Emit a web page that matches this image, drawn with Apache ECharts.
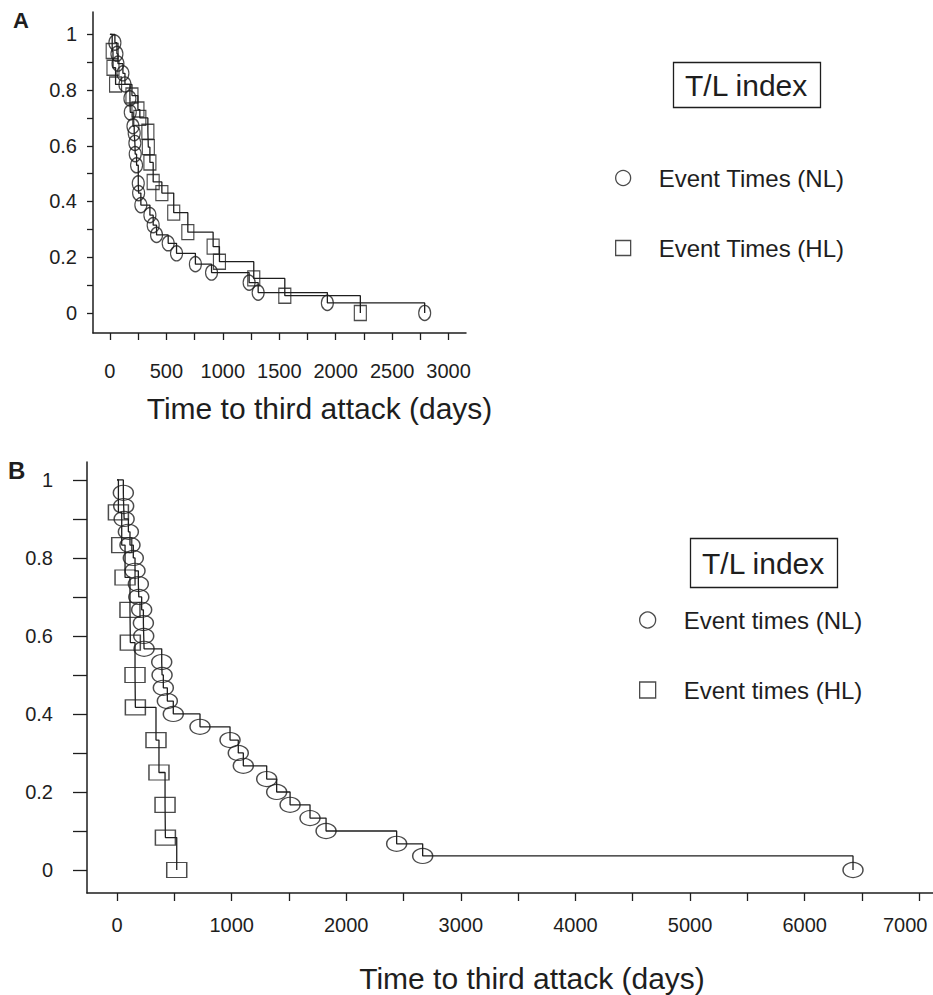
<!DOCTYPE html>
<html>
<head>
<meta charset="utf-8">
<title>Time to third attack</title>
<script src="https://cdn.jsdelivr.net/npm/echarts@6/dist/echarts.min.js"></script>
<style>
  html, body { margin: 0; padding: 0; background: #fff; }
  #chart { width: 933px; height: 995px; }
</style>
</head>
<body>
<div id="chart"></div>
<script>
// Panel A: event times (days) and survival at each event
const nlTimesA = [44, 62, 71, 115, 133, 177, 180, 204, 215, 221, 224, 236, 251, 254, 274, 354, 383, 413, 516, 590, 757, 900, 1233, 1313, 1926, 2788];
const nlSurvA = [0.97, 0.93, 0.895, 0.86, 0.82, 0.77, 0.72, 0.67, 0.645, 0.61, 0.57, 0.53, 0.465, 0.43, 0.387, 0.351, 0.315, 0.28, 0.25, 0.214, 0.175, 0.145, 0.109, 0.073, 0.036, 0];
const hlTimesA = [20, 27, 50, 195, 248, 265, 336, 340, 354, 383, 460, 565, 690, 914, 970, 1274, 1549, 2218];
const hlSurvA = [0.94, 0.88, 0.82, 0.78, 0.73, 0.70, 0.65, 0.595, 0.54, 0.47, 0.43, 0.36, 0.29, 0.238, 0.184, 0.124, 0.062, 0];

// Panel B
const nlTimesB = [55, 58, 62, 99, 113, 142, 157, 186, 190, 215, 230, 233, 236, 390, 393, 404, 439, 491, 724, 986, 1058, 1102, 1306, 1393, 1510, 1684, 1824, 2440, 2667, 6422];
const nlSurvB = [0.967, 0.933, 0.9, 0.867, 0.833, 0.8, 0.767, 0.733, 0.7, 0.667, 0.633, 0.6, 0.567, 0.533, 0.5, 0.467, 0.433, 0.4, 0.367, 0.333, 0.3, 0.267, 0.233, 0.2, 0.167, 0.133, 0.1, 0.067, 0.036, 0];
const hlTimesB = [12, 41, 70, 113, 116, 157, 160, 340, 366, 419, 422, 521];
const hlSurvB = [0.917, 0.833, 0.75, 0.667, 0.583, 0.5, 0.417, 0.333, 0.25, 0.167, 0.083, 0];

// ticks and labels
const yTicks = [0, 0.1, 0.2, 0.3, 0.4, 0.5, 0.6, 0.7, 0.8, 0.9, 1];
const yLabels = [0, 0.2, 0.4, 0.6, 0.8, 1];
const xTicksA = [0, 250, 500, 750, 1000, 1250, 1500, 1750, 2000, 2250, 2500, 2750, 3000];
const xLabelsA = [0, 500, 1000, 1500, 2000, 2500, 3000];
const xTicksB = [0, 500, 1000, 1500, 2000, 2500, 3000, 3500, 4000, 4500, 5000, 5500, 6000, 6500, 7000];
const xLabelsB = [0, 1000, 2000, 3000, 4000, 5000, 6000, 7000];

const INK = '#1e1e1e';
const FONT = '"Liberation Sans", Arial, Helvetica, sans-serif';
const AXIS_TITLE = 'Time to third attack (days)';

function steps(times, surv) {
  return [[0, 1]].concat(times.map((t, i) => [t, surv[i]]));
}
function points(times, surv) {
  return times.map((t, i) => [t, surv[i]]);
}

function xAxis(idx, min, max, ticks, labels, tickLen, labelMargin, nameGap, shift) {
  return {
    gridIndex: idx,
    type: 'value',
    min: min,
    max: max,
    splitLine: { show: false },
    axisLine: { show: true, onZero: false, lineStyle: { color: INK, width: 1.5 } },
    axisTick: { show: true, customValues: ticks, length: tickLen, lineStyle: { color: INK, width: 1.3 } },
    axisLabel: {
      customValues: labels,
      margin: labelMargin,
      fontSize: 20,
      color: INK,
      fontFamily: FONT,
      // the last label of panel B sits at the page edge
      formatter: (v) => (v === 7000 ? '{edge|' + v + '}' : String(v)),
      rich: { edge: { fontSize: 20, fontFamily: FONT, color: INK, padding: [0, 28, 0, 0] } },
    },
    name: AXIS_TITLE,
    nameLocation: 'middle',
    nameGap: nameGap,
    nameTextStyle: { fontSize: 30, color: INK, fontFamily: FONT, padding: [0, 0, 0, shift] },
  };
}

function yAxis(idx, min, max, tickLen, labelMargin) {
  return {
    gridIndex: idx,
    type: 'value',
    min: min,
    max: max,
    splitLine: { show: false },
    axisLine: { show: true, onZero: false, lineStyle: { color: INK, width: 1.5 } },
    axisTick: { show: true, customValues: yTicks, length: tickLen, lineStyle: { color: INK, width: 1.3 } },
    axisLabel: {
      customValues: yLabels,
      margin: labelMargin,
      fontSize: 20,
      color: INK,
      fontFamily: FONT,
      formatter: (v) => String(v),
    },
  };
}

function stepSeries(idx, data) {
  return {
    type: 'line',
    xAxisIndex: idx,
    yAxisIndex: idx,
    step: 'end',
    data: data,
    showSymbol: false,
    silent: true,
    lineStyle: { color: INK, width: 1.3 },
    itemStyle: { color: INK },
  };
}

function markSeries(idx, name, symbol, size, data) {
  return {
    type: 'scatter',
    name: name,
    xAxisIndex: idx,
    yAxisIndex: idx,
    symbol: symbol,
    symbolSize: size,
    data: data,
    itemStyle: { color: 'rgba(0,0,0,0)', borderColor: INK, borderWidth: 1.3 },
  };
}

function legend(left, top, names, size) {
  return {
    orient: 'vertical',
    left: left,
    top: top,
    padding: 0,
    itemGap: 46,
    itemWidth: size,
    itemHeight: size,
    selectedMode: false,
    data: [
      { name: names[0], icon: 'circle' },
      { name: names[1], icon: 'rect' },
    ],
    itemStyle: { color: 'rgba(0,0,0,0)', borderColor: INK, borderWidth: 1.3 },
    textStyle: { fontSize: 24, lineHeight: 24, color: INK, fontFamily: FONT, padding: [0, 0, 0, 23] },
  };
}

function boxTitle(text, left, top, padV) {
  return {
    text: text,
    left: left,
    top: top,
    padding: [padV, 12],
    borderWidth: 1.3,
    borderColor: INK,
    textStyle: { fontSize: 30, lineHeight: 30, fontWeight: 'normal', color: INK, fontFamily: FONT },
  };
}

const chart = echarts.init(document.getElementById('chart'), null, { renderer: 'svg' });

chart.setOption({
  backgroundColor: '#fff',
  animation: false,
  title: [
    { text: 'A', left: 13, top: 9, padding: 0, textStyle: { fontSize: 22, fontWeight: 'bold', color: INK, fontFamily: FONT } },
    { text: 'B', left: 8, top: 458, padding: 0, textStyle: { fontSize: 24, fontWeight: 'bold', color: INK, fontFamily: FONT } },
    boxTitle('T/L index', 673, 62, 8),
    boxTitle('T/L index', 690, 538, 10),
  ],
  legend: [
    legend(615, 166, ['Event Times (NL)', 'Event Times (HL)'], 15),
    legend(639, 608, ['Event times (NL)', 'Event times (HL)'], 16),
  ],
  grid: [
    { left: 93, top: 12, width: 373, height: 321, outerBoundsMode: 'none' },
    { left: 87, top: 462, width: 846, height: 431, outerBoundsMode: 'none' },
  ],
  xAxis: [
    xAxis(0, -150, 3154, xTicksA, xLabelsA, 7, 28, 60, 80),
    xAxis(1, -262, 7120, xTicksB, xLabelsB, 8, 22, 70, 44),
  ],
  yAxis: [
    yAxis(0, -0.072, 1.08, 6, 16),
    yAxis(1, -0.059, 1.046, 14, 34),
  ],
  series: [
    stepSeries(0, steps(nlTimesA, nlSurvA)),
    stepSeries(0, steps(hlTimesA, hlSurvA)),
    markSeries(0, 'Event Times (NL)', 'circle', [12, 15], points(nlTimesA, nlSurvA)),
    markSeries(0, 'Event Times (HL)', 'rect', [12, 15], points(hlTimesA, hlSurvA)),
    stepSeries(1, steps(nlTimesB, nlSurvB)),
    stepSeries(1, steps(hlTimesB, hlSurvB)),
    markSeries(1, 'Event times (NL)', 'circle', [20, 15], points(nlTimesB, nlSurvB)),
    markSeries(1, 'Event times (HL)', 'rect', [20, 15], points(hlTimesB, hlSurvB)),
  ],
});

window.addEventListener('resize', () => chart.resize());
</script>
</body>
</html>
